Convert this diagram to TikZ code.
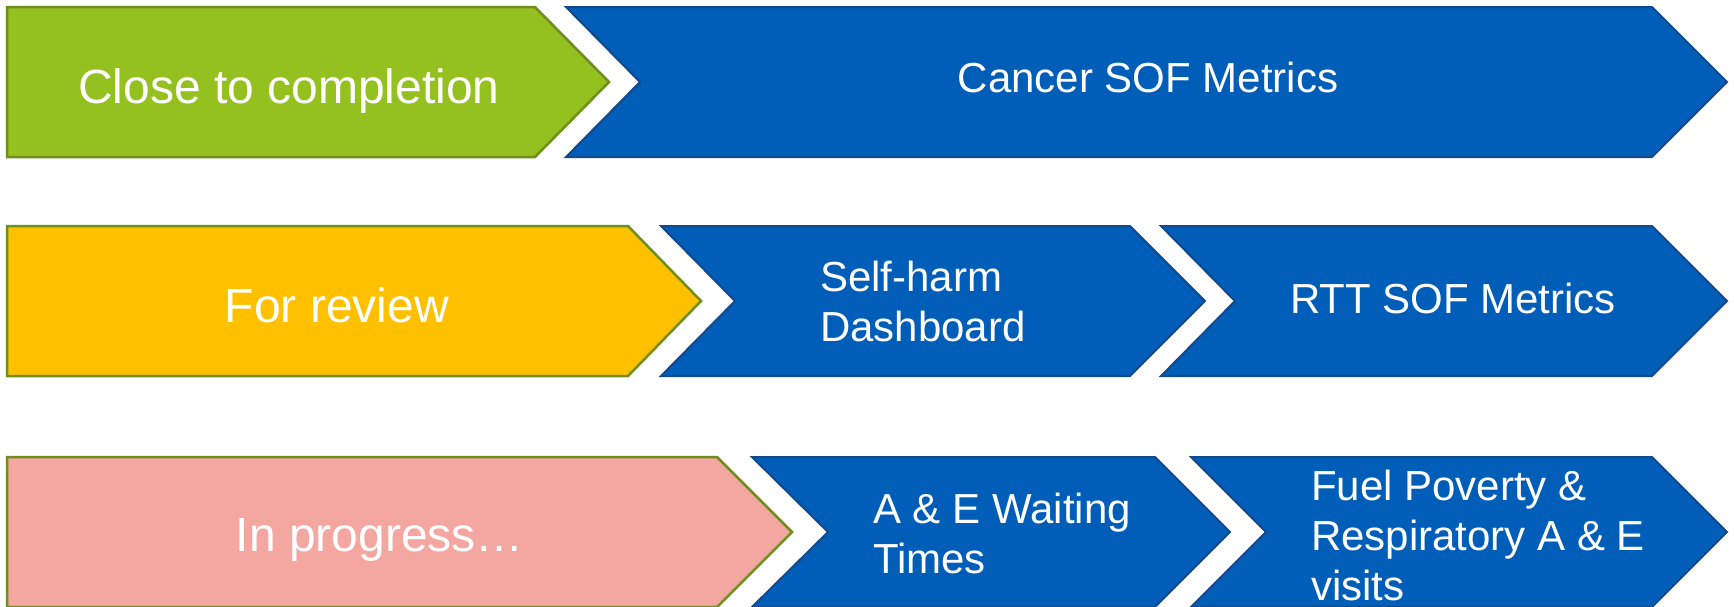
\documentclass[tikz,border=0pt]{standalone}
\usepackage{fontspec}
\setmainfont{Liberation Sans}
\definecolor{cgreen}{RGB}{148,193,31}
\definecolor{cyellow}{RGB}{255,192,0}
\definecolor{cpink}{RGB}{244,166,160}
\definecolor{cblue}{RGB}{0,94,184}
\definecolor{colive}{RGB}{110,142,30}
\definecolor{cblueedge}{RGB}{18,72,140}
\tikzset{
  statusshape/.style={draw=colive, line width=2.5pt, line join=miter},
  itemshape/.style={fill=cblue, draw=cblueedge, line width=2pt, line join=miter},
  biglabel/.style={text=white, inner sep=0pt, font=\fontsize{48}{54}\selectfont},
  itemlabel/.style={text=white, inner sep=0pt, align=left, font=\fontsize{42}{50}\selectfont},
}
\begin{document}
\begin{tikzpicture}[x=1pt, y=-1pt]
\useasboundingbox (0,0) rectangle (1734,606);
\fill[white] (0,0) rectangle (1734,606);
% Row 1
\filldraw[statusshape, fill=cgreen] (7,7) -- (535,7) -- (609,82) -- (535,157) -- (7,157) -- cycle;
\filldraw[itemshape] (566,7) -- (1652,7) -- (1727,82) -- (1652,157) -- (566,157) -- (640,82) -- cycle;
% Row 2
\filldraw[statusshape, fill=cyellow] (7,226) -- (628,226) -- (701,301) -- (628,376) -- (7,376) -- cycle;
\filldraw[itemshape] (661,226) -- (1130,226) -- (1205,301) -- (1130,376) -- (661,376) -- (735,301) -- cycle;
\filldraw[itemshape] (1161,226) -- (1652,226) -- (1727,301) -- (1652,376) -- (1161,376) -- (1235,301) -- cycle;
% Row 3
\filldraw[statusshape, fill=cpink] (7,457) -- (717,457) -- (792,532) -- (717,607) -- (7,607) -- cycle;
\filldraw[itemshape] (752,457) -- (1155,457) -- (1230,532) -- (1155,607) -- (752,607) -- (828,532) -- cycle;
\filldraw[itemshape] (1191,457) -- (1652,457) -- (1727,532) -- (1652,607) -- (1191,607) -- (1266,532) -- cycle;
% Labels
\node[biglabel, anchor=base] (close) at (289,103) {Close to completion};
\node[itemlabel, anchor=base] (cancer) at (1148,92) {Cancer SOF Metrics};
\node[biglabel, anchor=base] (review) at (337,322) {For review};
\node[itemlabel, anchor=west] (selfharm) at (820,301.7) {Self-harm\\Dashboard};
\node[itemlabel, anchor=base] (rtt) at (1453,313) {RTT SOF Metrics};
\node[biglabel, anchor=base] (progress) at (380,551) {In progress…};
\node[itemlabel, anchor=west] (ae) at (873,533.7) {A \& E Waiting\\Times};
\node[itemlabel, anchor=west] (fuel) at (1311,535.7) {Fuel Poverty \&\\Respiratory A \& E\\visits};
\end{tikzpicture}
\end{document}
